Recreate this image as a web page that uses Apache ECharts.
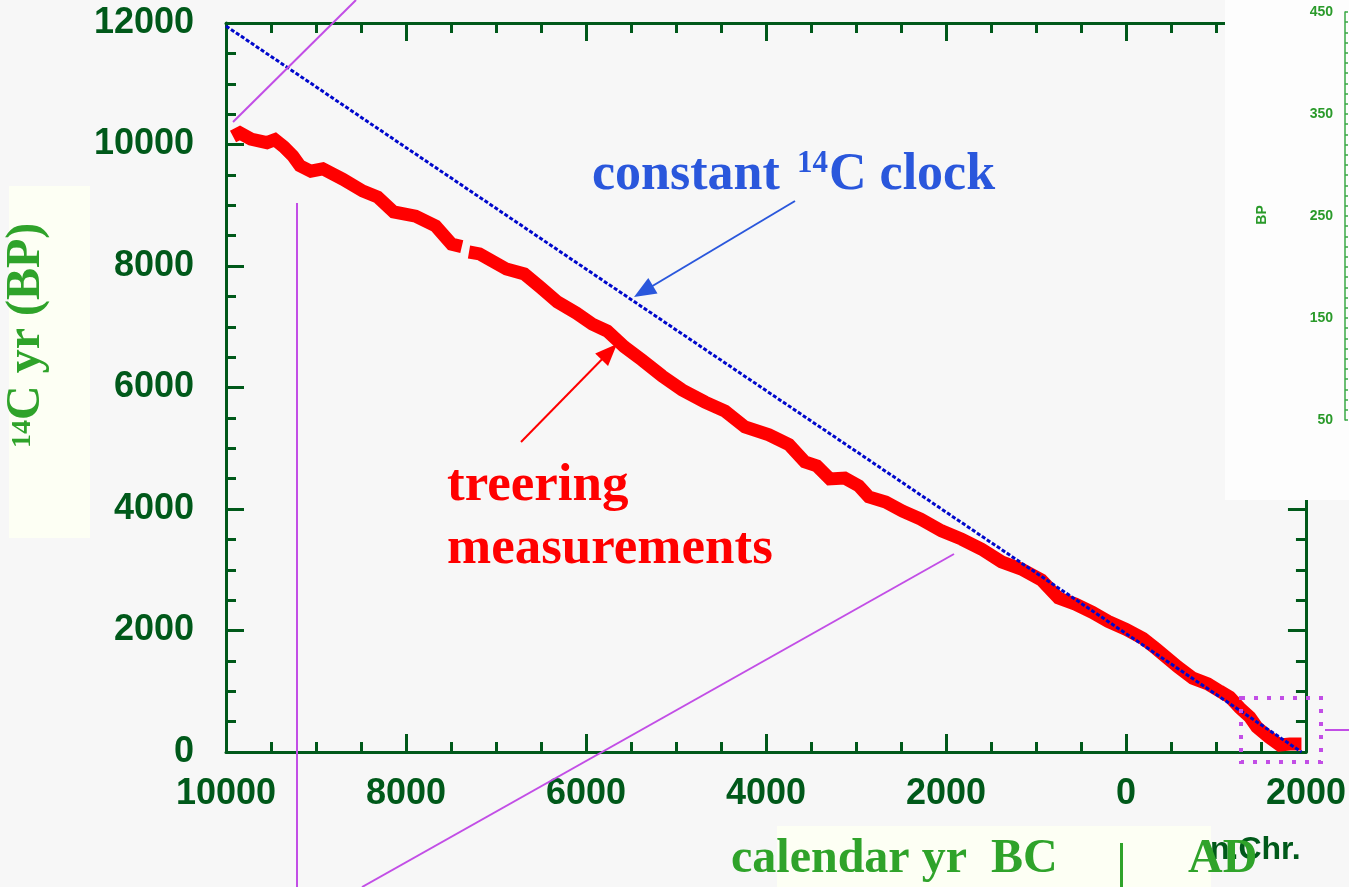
<!DOCTYPE html>
<html>
<head>
<meta charset="utf-8">
<script src="https://cdn.jsdelivr.net/npm/echarts@6/dist/echarts.min.js"></script>
<style>
  html, body { margin: 0; padding: 0; background: #f7f7f7; }
  #chart { width: 1349px; height: 887px; }
</style>
</head>
<body>
<div id="chart"></div>
<script>
// Radiocarbon age (BP) against calendar age; BC years are negative.

// Tree-ring calibration measurements
const treeYears = [-9922, -9845, -9723, -9545, -9457, -9357, -9257, -9179, -9057, -8924,
  -8702, -8481, -8315, -8137, -7893, -7671, -7494, -7380, -7340, -7300,
  -7183, -6884, -6685, -6507, -6318, -6107, -5930, -5764, -5575, -5376,
  -5154, -4932, -4677, -4455, -4233, -3967, -3745, -3568, -3435, -3291,
  -3125, -2969, -2858, -2670, -2481, -2282, -2049, -1827, -1605, -1383,
  -1161, -939, -751, -563, -374, -197, 0, 190, 335, 577,
  743, 910, 1043, 1154, 1265, 1376, 1454, 1587, 1709, 1820, 1950];
const treeBP = [10130, 10190, 10090, 10030, 10080, 9960, 9810, 9650, 9560, 9600,
  9430, 9235, 9135, 8890, 8820, 8660, 8360, 8320, null, 8230,
  8200, 7950, 7870, 7650, 7410, 7225, 7045, 6930, 6670, 6450,
  6190, 5960, 5760, 5610, 5350, 5220, 5060, 4775, 4710, 4495,
  4510, 4380, 4200, 4115, 3965, 3835, 3640, 3505, 3340, 3130,
  3010, 2830, 2535, 2435, 2300, 2150, 2020, 1870, 1700, 1400,
  1215, 1120, 1000, 905, 725, 575, 410, 245, 115, 130, 130];

// Constant 14C clock: straight line from 10000 BC to 1950 AD (0 BP)
const clockYears = [-10000, 1950];
const clockBP = [11950, 0];

// Main axes
const calMin = -10000, calMax = 2000, calStep = 2000;
const bpMin = 0, bpMax = 12000, bpStep = 2000;

// Inset scale
const insetMin = 50, insetMax = 450, insetStep = 10;
const insetLabels = [50, 150, 250, 350, 450];

const axisGreen = '#00591a';
const titleGreen = '#2fa32a';
const violet = '#c24ee6';
const serif = '"Liberation Serif", "Times New Roman", serif';
const sans = '"Liberation Sans", Arial, sans-serif';

const treeData = treeYears.map((y, i) => [y, treeBP[i] === null ? '-' : treeBP[i]]);
const clockData = clockYears.map((y, i) => [y, clockBP[i]]);

function frameAxis(extra) {
  return Object.assign({
    type: 'value',
    gridIndex: 0,
    axisLine: { show: true, onZero: false, lineStyle: { color: axisGreen, width: 3 } },
    axisTick: { show: true, inside: true, length: 18, lineStyle: { color: axisGreen, width: 3 } },
    minorTick: { show: true, splitNumber: 4, length: 10, lineStyle: { color: axisGreen, width: 3 } },
    splitLine: { show: false },
    minorSplitLine: { show: false }
  }, extra);
}

const tickFont = { fontSize: 36, fontWeight: 'bold', fontFamily: sans, color: axisGreen };

// text placed by its baseline
function txt(str, x, baseline, size, color, family, align, z) {
  const a = align || 'left';
  return {
    type: 'text', z: z || 20,
    style: {
      text: str, x: x, y: baseline - 0.34 * size,
      font: 'bold ' + size + 'px ' + family,
      fill: color, align: a, verticalAlign: 'middle',
      textAlign: a, textVerticalAlign: 'middle'
    }
  };
}

function arrow(x1, y1, x2, y2, color, len, half, width) {
  const dx = x2 - x1, dy = y2 - y1, d = Math.hypot(dx, dy);
  const ux = dx / d, uy = dy / d;
  const bx = x2 - ux * len, by = y2 - uy * len;
  return [
    { type: 'line', z: 18, shape: { x1: x1, y1: y1, x2: bx + ux * 2, y2: by + uy * 2 },
      style: { stroke: color, lineWidth: width } },
    { type: 'polygon', z: 18, shape: { points: [[x2, y2], [bx - uy * half, by + ux * half], [bx + uy * half, by - ux * half]] },
      style: { fill: color } }
  ];
}

function vline(x1, y1, x2, y2) {
  return { type: 'line', z: 15, shape: { x1: x1, y1: y1, x2: x2, y2: y2 },
    style: { stroke: violet, lineWidth: 2 } };
}

const clockBlue = '#2a57dc';

const graphics = [
  // axis title boxes
  { type: 'rect', z: 1, shape: { x: 9, y: 186, width: 81, height: 352 }, style: { fill: '#fdfff4' } },
  { type: 'rect', z: 1, shape: { x: 777, y: 826, width: 434, height: 61 }, style: { fill: '#fdfff4' } },
  // inset panel
  { type: 'rect', z: 5, shape: { x: 1225, y: 0, width: 124, height: 500 }, style: { fill: '#fdfdfd' } },
  { type: 'group', x: 1262, y: 215, rotation: Math.PI / 2, z: 21, children: [
      txt('BP', 0, 5, 14, '#2a9a2a', sans, 'center', 21)
  ] },
  // zoom connector lines
  vline(233, 122, 356, 0),
  vline(297, 203, 297, 887),
  vline(362, 887, 954, 554),
  vline(1325, 730, 1349, 730),
  { type: 'rect', z: 15, shape: { x: 1241, y: 698, width: 80, height: 64 },
    style: { fill: 'none', stroke: violet, lineWidth: 4, lineDash: [4, 9] } },
  // annotations
  txt('constant', 592, 193, 52, clockBlue, serif),
  txt('14', 797, 175, 31, clockBlue, serif),
  txt('C clock', 829, 193, 52, clockBlue, serif),
  txt('treering', 447, 504, 53, '#ff0000', serif),
  txt('measurements', 447, 567, 53, '#ff0000', serif),
  // y-axis title, reading upward
  { type: 'group', x: 43, y: 448, rotation: Math.PI / 2, z: 20, children: [
      txt('14', 0, -11, 28, titleGreen, serif),
      txt('C yr (BP)', 28, 0, 48, titleGreen, serif)
  ] },
  // x-axis title
  txt('n.Chr.', 1210, 861, 32, axisGreen, sans, 'left', 19),
  txt('calendar yr  BC', 731, 876, 48, titleGreen, serif),
  { type: 'rect', z: 20, shape: { x: 1120, y: 843, width: 3, height: 44 }, style: { fill: titleGreen } },
  txt('AD', 1188, 876, 48, titleGreen, serif)
].concat(arrow(795, 201, 634, 297, clockBlue, 22, 9, 2))
 .concat(arrow(521, 442, 617, 344, '#ff0000', 22, 9, 2));

const option = {
  backgroundColor: '#f7f7f7',
  animation: false,
  grid: [
    { left: 226, top: 23, width: 1082, height: 729 },
    { left: 1345, top: 12, width: 3, height: 408 }
  ],
  xAxis: [
    frameAxis({ min: calMin, max: calMax, interval: calStep, position: 'bottom',
      axisLabel: Object.assign({ margin: 24, formatter: v => String(Math.abs(v)) }, tickFont) }),
    frameAxis({ min: calMin, max: calMax, interval: calStep, position: 'top', axisLabel: { show: false } }),
    { type: 'value', gridIndex: 1, min: 0, max: 1, show: false }
  ],
  yAxis: [
    frameAxis({ min: bpMin, max: bpMax, interval: bpStep, position: 'left',
      axisLabel: Object.assign({ margin: 32, formatter: v => String(v) }, tickFont) }),
    frameAxis({ min: bpMin, max: bpMax, interval: bpStep, position: 'right', axisLabel: { show: false } }),
    { type: 'value', gridIndex: 1, min: insetMin, max: insetMax, interval: insetStep, position: 'left', z: 10,
      axisLine: { show: true, onZero: false, lineStyle: { color: '#3aa845', width: 1.5 } },
      axisTick: { show: true, inside: true, length: 3, lineStyle: { color: '#3aa845', width: 1.5 } },
      splitLine: { show: false },
      axisLabel: { margin: 12, fontSize: 14, fontWeight: 'bold', fontFamily: sans, color: '#2a9a2a',
        formatter: v => (insetLabels.indexOf(v) >= 0 ? String(v) : '') } }
  ],
  series: [
    { name: 'treering measurements', type: 'line', xAxisIndex: 0, yAxisIndex: 0, data: treeData,
      showSymbol: false, connectNulls: false, z: 3,
      lineStyle: { color: '#ff0000', width: 13, cap: 'butt', join: 'miter' } },
    { name: 'constant 14C clock', type: 'line', xAxisIndex: 0, yAxisIndex: 0, data: clockData,
      showSymbol: false, z: 4,
      lineStyle: { color: '#0008cc', width: 3, type: [4, 2] } }
  ],
  graphic: { elements: graphics }
};

const chart = echarts.init(document.getElementById('chart'), null, { renderer: 'canvas' });
chart.setOption(option);
</script>
</body>
</html>
